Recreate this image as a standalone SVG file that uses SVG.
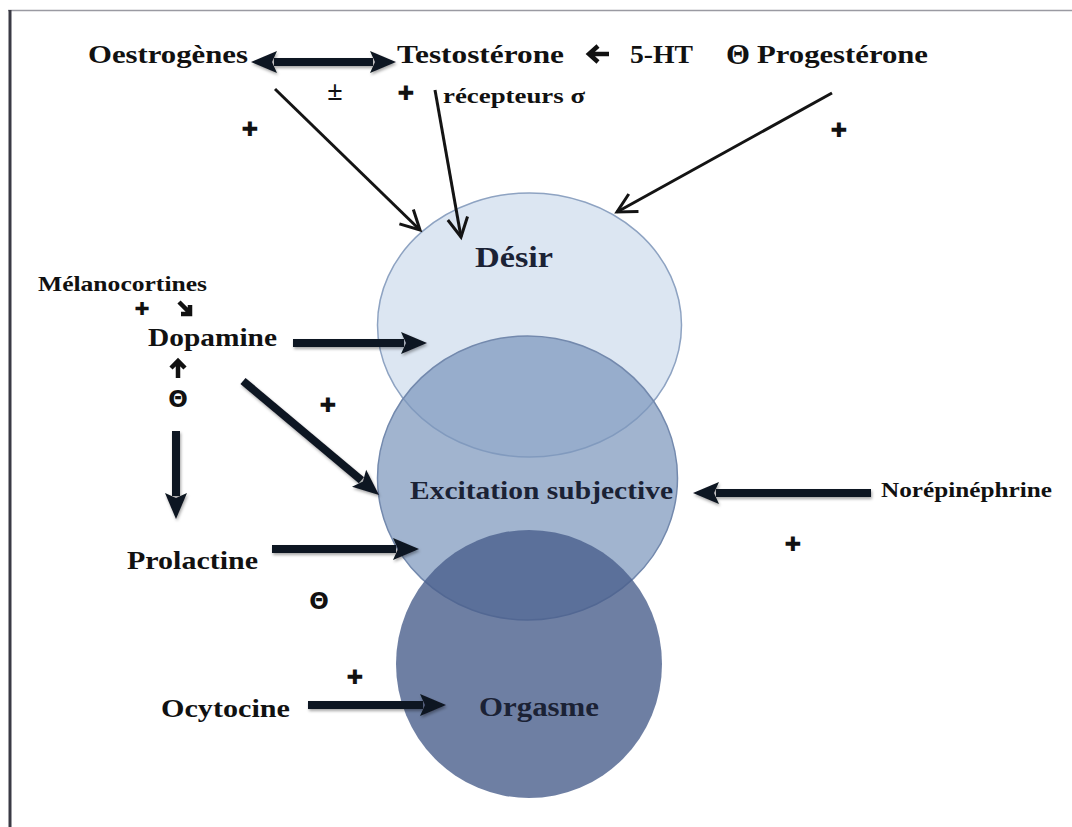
<svg xmlns="http://www.w3.org/2000/svg" width="1072" height="827" viewBox="0 0 1072 827">
  <defs>
    <style>
      .lbl { font-family: "Liberation Serif", "Times New Roman", serif; font-weight: bold; fill: #111; }
      .big { font-size: 26px; }
      .mid { font-size: 25px; }
      .small { font-size: 21px; }
      .stage { font-family: "Liberation Serif", "Times New Roman", serif; font-weight: bold; fill: #1b2235; }
      .sym { font-family: "DejaVu Sans", sans-serif; font-weight: bold; fill: #111; }
      .thin { stroke: #141414; stroke-width: 3; fill: none; }
      .thick { stroke: #0e1420; stroke-width: 8; fill: none; filter: url(#soft); }
      .glyph { stroke: #111; stroke-width: 4.5; fill: none; stroke-linecap: butt; stroke-linejoin: miter; }
    </style>
    <filter id="soft" filterUnits="userSpaceOnUse" x="0" y="0" width="1072" height="827">
      <feDropShadow dx="1" dy="2" stdDeviation="1.6" flood-color="#000" flood-opacity="0.35"/>
    </filter>
    <!-- open V head for the thin influence lines -->
    <marker id="vee" viewBox="-24 -13 28 26" refX="0" refY="0" markerWidth="28" markerHeight="26" markerUnits="userSpaceOnUse" orient="auto" overflow="visible">
      <path d="M-19,-10 L0,0 L-19,10" fill="none" stroke="#141414" stroke-width="3"/>
    </marker>
    <!-- solid head for the heavy arrows -->
    <marker id="head" viewBox="0 -12 28 24" refX="3" refY="0" markerWidth="28" markerHeight="24" markerUnits="userSpaceOnUse" orient="auto-start-reverse" overflow="visible">
      <path d="M0,-11 L26,0 L0,11 L5,0 z" fill="#0e1420"/>
    </marker>
  </defs>

  <rect width="1072" height="827" fill="#ffffff"/>
  <!-- page frame -->
  <line x1="8" y1="10.5" x2="1072" y2="10.5" stroke="#9a9aa2" stroke-width="1.6"/>
  <line x1="10" y1="10" x2="10" y2="827" stroke="#3a3a44" stroke-width="3"/>

  <!-- response stages -->
  <g id="desir">
    <ellipse cx="529.5" cy="325" rx="152" ry="132" fill="#dce6f2" stroke="#8ea3c2" stroke-width="1.5"/>
  </g>
  <g id="excitation">
    <ellipse cx="527.5" cy="478" rx="150" ry="142" fill="#7d97bd" fill-opacity="0.72" stroke="#7389ad" stroke-width="1.5"/>
  </g>
  <g id="orgasme">
    <ellipse cx="529" cy="664" rx="133" ry="134" fill="#4a5f8c" fill-opacity="0.8"/>
  </g>
  <g id="stage-labels">
    <text class="stage" x="475" y="267" font-size="29" textLength="78" lengthAdjust="spacingAndGlyphs">Désir</text>
    <text class="stage" x="410" y="499" font-size="25" textLength="263" lengthAdjust="spacingAndGlyphs">Excitation subjective</text>
    <text class="stage" x="479" y="716" font-size="28" textLength="120" lengthAdjust="spacingAndGlyphs">Orgasme</text>
  </g>

  <!-- modulators -->
  <g id="oestrogenes">
    <text class="lbl big" x="88" y="63" textLength="160" lengthAdjust="spacingAndGlyphs">Oestrogènes</text>
  </g>
  <g id="testosterone">
    <text class="lbl big" x="397" y="63" textLength="167" lengthAdjust="spacingAndGlyphs">Testostérone</text>
    <text class="lbl small" x="443" y="103" textLength="142" lengthAdjust="spacingAndGlyphs">récepteurs σ</text>
  </g>
  <g id="serotonine">
    <text class="lbl big" x="630" y="63" textLength="63" lengthAdjust="spacingAndGlyphs">5-HT</text>
  </g>
  <g id="progesterone">
    <text class="lbl" x="726" y="64" font-size="29" textLength="24" lengthAdjust="spacingAndGlyphs">Θ</text>
    <text class="lbl big" x="757" y="63" textLength="171" lengthAdjust="spacingAndGlyphs">Progestérone</text>
  </g>
  <g id="melanocortines">
    <text class="lbl small" x="38" y="291" textLength="169" lengthAdjust="spacingAndGlyphs">Mélanocortines</text>
  </g>
  <g id="dopamine">
    <text class="lbl mid" x="148" y="346" textLength="129" lengthAdjust="spacingAndGlyphs">Dopamine</text>
  </g>
  <g id="prolactine">
    <text class="lbl mid" x="127" y="569" textLength="131" lengthAdjust="spacingAndGlyphs">Prolactine</text>
  </g>
  <g id="ocytocine">
    <text class="lbl mid" x="161" y="717" textLength="129" lengthAdjust="spacingAndGlyphs">Ocytocine</text>
  </g>
  <g id="norepinephrine">
    <text class="lbl small" x="881" y="497" textLength="171" lengthAdjust="spacingAndGlyphs">Norépinéphrine</text>
  </g>

  <!-- effect signs -->
  <g id="signs">
    <text class="sym" x="250" y="136" font-size="20" text-anchor="middle">✚</text>
    <text class="lbl" x="335" y="100" font-size="28" text-anchor="middle">±</text>
    <text class="sym" x="406" y="100" font-size="20" text-anchor="middle">✚</text>
    <text class="sym" x="839" y="137" font-size="20" text-anchor="middle">✚</text>
    <text class="sym" x="142" y="315" font-size="18" text-anchor="middle">✚</text>
    <text class="sym" x="178" y="407" font-size="23" text-anchor="middle">Θ</text>
    <text class="sym" x="328" y="412" font-size="20" text-anchor="middle">✚</text>
    <text class="sym" x="793" y="551" font-size="20" text-anchor="middle">✚</text>
    <text class="sym" x="319" y="609" font-size="23" text-anchor="middle">Θ</text>
    <text class="sym" x="355" y="684" font-size="20" text-anchor="middle">✚</text>
  </g>

  <!-- small inline arrows -->
  <g id="inline-arrows">
    <path class="glyph" d="M609,54 H589 M598,46 L589,54 L598,62"/>
    <path class="glyph" d="M179,302 L190,313 M181,314 H190 V305"/>
    <path class="glyph" d="M178,378 V361 M171,368 L178,361 L185,368"/>
  </g>

  <!-- connectors -->
  <g id="connectors">
    <line class="thick" x1="274" y1="62" x2="373" y2="62" marker-start="url(#head)" marker-end="url(#head)"/>
    <line class="thin" x1="275" y1="89" x2="420" y2="230" marker-end="url(#vee)"/>
    <line class="thin" x1="435" y1="90" x2="461" y2="237" marker-end="url(#vee)"/>
    <line class="thin" x1="832" y1="93" x2="617" y2="212" marker-end="url(#vee)"/>
    <line class="thick" x1="293" y1="343" x2="404" y2="343" marker-end="url(#head)"/>
    <line class="thick" x1="243" y1="381" x2="361.4" y2="480.2" marker-end="url(#head)"/>
    <line class="thick" x1="176" y1="431" x2="176" y2="496" marker-end="url(#head)"/>
    <line class="thick" x1="272" y1="549" x2="396" y2="549" marker-end="url(#head)"/>
    <line class="thick" x1="871" y1="493" x2="716" y2="493" marker-end="url(#head)"/>
    <line class="thick" x1="308" y1="705" x2="423" y2="705" marker-end="url(#head)"/>
  </g>
</svg>
